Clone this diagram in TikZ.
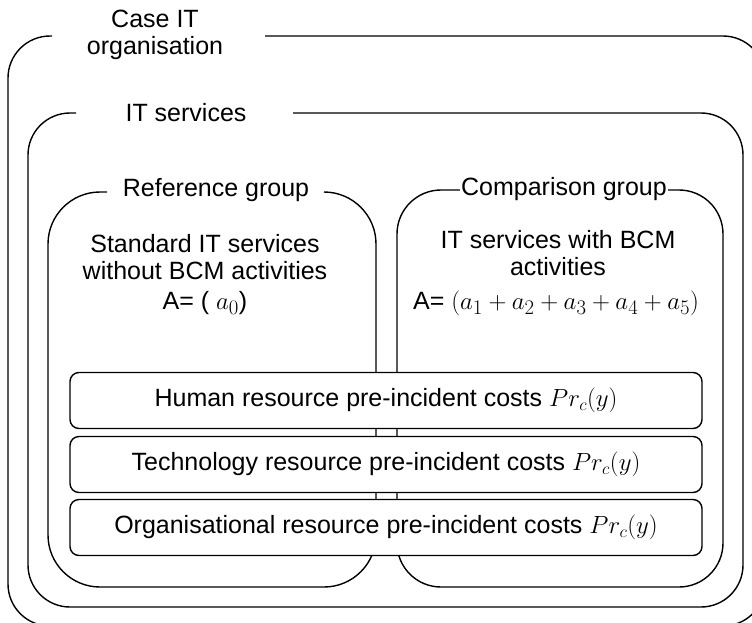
\documentclass[tikz,border=0pt]{standalone}
\usepackage{fontspec}
\setmainfont{Liberation Sans}
\newcommand\bigmath[1]{{\fontsize{27.5}{27}\selectfont$#1$}}
\begin{document}
\begin{tikzpicture}[x=1pt,y=-1pt,
  frame/.style={draw=black,line width=1.4pt},
  label/.style={inner sep=0pt,align=center,font=\fontsize{25}{27}\selectfont},
  costbox/.style={draw=black,fill=white,line width=1.4pt,rounded corners=9pt,
    minimum width=632pt,minimum height=56pt,inner sep=0pt,
    font=\fontsize{25}{27}\selectfont}]
\useasboundingbox (0,0) rectangle (752,622);
\clip (0,0) rectangle (752,622);
% frame titles
\node[label] (org) at (155,35) {Case IT\\organisation};
\node[label] (its) at (186,113) {IT services};
\node[label] (ref) at (216,190) {Reference group};
\node[label] (cmp) at (564,189) {Comparison group};
\coordinate (cmptop) at (0,190);
% outer frame: case IT organisation
\draw[frame,rounded corners=42pt] (265,36) -- (765,36) -- (765,626) -- (8,626) -- (8,36) -- (52,36);
% IT services frame
\draw[frame,rounded corners=42pt] (293,113) -- (743,113) -- (743,607) -- (28,607) -- (28,113) -- (76,113);
% reference group frame
\draw[frame,rounded corners=52pt] (324,192) -- (376,192) -- (376,587) -- (48,587) -- (48,192) -- (107,192);
% comparison group frame, its top line running into the title
\draw[frame,rounded corners=44pt] ([xshift=1pt]cmp.east |- cmptop) -- (723,190) -- (723,587) -- (397,587) -- (397,190) -- ([xshift=-1pt]cmp.west |- cmptop);
% group descriptions
\node[label] (refdesc) at (205,257) {Standard IT services\\without BCM activities};
\node[label] (refa) at (205,303) {A= ( \bigmath{a_0})};
\node[label] (cmpdesc) at (558,253) {IT services with BCM\\activities};
\node[label] (cmpa) at (556,303) {A= \bigmath{(a_1+a_2+a_3+a_4+a_5)}};
% pre-incident cost boxes
\node[costbox] (hum) at (386,400.5) {Human resource pre-incident costs $Pr_c(y)$};
\node[costbox] (tech) at (386,464.5) {Technology resource pre-incident costs $Pr_c(y)$};
\node[costbox] (orgc) at (386,527.5) {Organisational resource pre-incident costs $Pr_c(y)$};
\end{tikzpicture}
\end{document}
